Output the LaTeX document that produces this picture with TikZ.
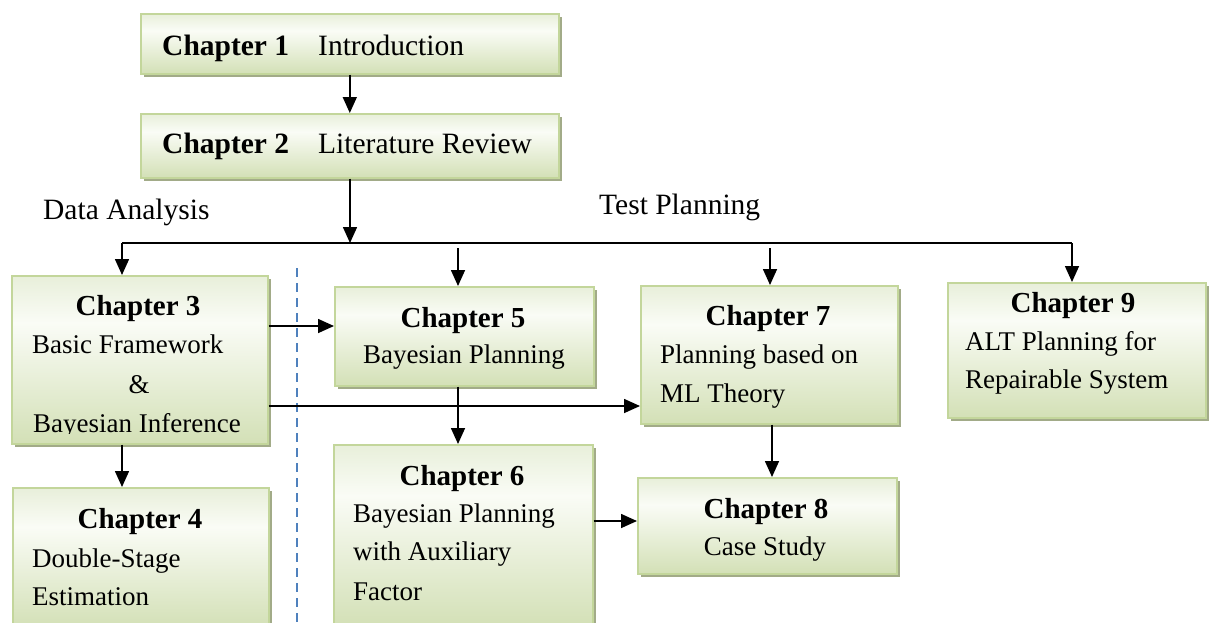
\documentclass[tikz,border=0pt]{standalone}
\usepackage{fontspec}
\setmainfont{Liberation Serif}
\usetikzlibrary{arrows.meta,shadows}

\definecolor{boxedge}{HTML}{C3D69B}
\definecolor{boxshade}{HTML}{A2AB88}
\definecolor{fillbot}{HTML}{D3E0B6}
\definecolor{fillmid}{HTML}{FAFCF6}
\definecolor{filltop}{HTML}{E8EFDA}
\definecolor{divider}{HTML}{4F81BD}

% green gradient of the chapter boxes: greenish top edge, pale band, green bottom
\pgfdeclareverticalshading{chapfill}{100bp}{%
  color(0bp)=(fillbot); color(25bp)=(fillbot); color(61bp)=(fillmid);
  color(75bp)=(filltop); color(100bp)=(filltop)}

\begin{document}
\begin{tikzpicture}[x=1pt,y=-1pt,
  chapbox/.style={draw=boxedge, line width=1.6pt, shading=chapfill,
    inner sep=0pt, anchor=north west,
    drop shadow={shadow xshift=3.5pt, shadow yshift=-3.5pt, fill=boxshade, opacity=1}},
  title/.style={font=\bfseries\fontsize{29}{34}\selectfont, inner sep=0pt},
  body/.style={font=\fontsize{27}{34}\selectfont, inner sep=0pt},
  head/.style={font=\fontsize{29.5}{34}\selectfont, inner sep=0pt},
  grouplabel/.style={font=\fontsize{29.5}{34}\selectfont, inner sep=0pt},
  conn/.style={line width=1.6pt},
  arr/.style={conn, -{Triangle[length=16pt,width=14pt]}}]

\useasboundingbox (0,0) rectangle (1214,622);

% chapter boxes
\node[chapbox, minimum width=418pt, minimum height=60pt] (b1) at (140,13) {};
\node[chapbox, minimum width=418pt, minimum height=64pt] (b2) at (140,113) {};
\node[chapbox, minimum width=256pt, minimum height=168pt] (b3) at (11,275) {};
\node[chapbox, minimum width=256pt, minimum height=140pt] (b4) at (12,487) {};
\node[chapbox, minimum width=259pt, minimum height=99pt] (b5) at (334,286) {};
\node[chapbox, minimum width=259pt, minimum height=182pt] (b6) at (333,444) {};
\node[chapbox, minimum width=257pt, minimum height=138pt] (b7) at (640,285) {};
\node[chapbox, minimum width=259pt, minimum height=96pt] (b8) at (637,477) {};
\node[chapbox, minimum width=258pt, minimum height=135pt] (b9) at (947,282) {};

% box texts
\node[head, anchor=base west] (t1a) at (162,55) {\bfseries Chapter 1};
\node[head, anchor=base west] (t1b) at (318,55) {Introduction};
\node[head, anchor=base west] (t2a) at (162,153) {\bfseries Chapter 2};
\node[head, anchor=base west] (t2b) at (318,153) {Literature Review};

\node[title, anchor=base] (t3a) at (138,315) {Chapter 3};
\node[body, anchor=base west] (t3b) at (32,353) {Basic Framework};
\node[body, anchor=base] (t3c) at (139,393) {\&};
\begin{scope}
  \clip (11,275) rectangle (267,433);
  \node[body, anchor=base west] (t3d) at (33,432) {Bayesian Inference};
\end{scope}

\node[title, anchor=base] (t4a) at (140,528) {Chapter 4};
\node[body, anchor=base west] (t4b) at (32,567) {Double-Stage};
\node[body, anchor=base west] (t4c) at (32,605) {Estimation};

\node[title, anchor=base] (t5a) at (463,327) {Chapter 5};
\node[body, anchor=base] (t5b) at (464,363) {Bayesian Planning};

\node[title, anchor=base] (t6a) at (462,485) {Chapter 6};
\node[body, anchor=base west] (t6b) at (353,522) {Bayesian Planning};
\node[body, anchor=base west] (t6c) at (353,560) {with Auxiliary};
\node[body, anchor=base west] (t6d) at (353,600) {Factor};

\node[title, anchor=base] (t7a) at (768,325) {Chapter 7};
\node[body, anchor=base west] (t7b) at (660,363) {Planning based on};
\node[body, anchor=base west] (t7c) at (660,402) {ML Theory};

\node[title, anchor=base] (t8a) at (766,518) {Chapter 8};
\node[body, anchor=base] (t8b) at (765,555) {Case Study};

\node[title, anchor=base] (t9a) at (1073,312) {Chapter 9};
\node[body, anchor=base west] (t9b) at (965,350) {ALT Planning for};
\node[body, anchor=base west] (t9c) at (965,388) {Repairable System};

% group labels
\node[grouplabel, anchor=base west] (lda) at (43,219) {Data Analysis};
\node[grouplabel, anchor=base west] (ltp) at (599,214) {Test Planning};

% divider between the two groups
\draw[divider, line width=2pt, dash pattern=on 9pt off 6pt] (297,268) -- (297,622);

% distribution bar
\coordinate (hub) at (350,243);
\coordinate (hl) at (122,243);
\coordinate (hr) at (1072,243);
\coordinate (s5) at (458,248);
\coordinate (s7) at (770,248);
\coordinate (s8) at (772,0);

\draw[arr] (b1) -- (b2);
\draw[arr] (b2.south -| hub) -- (hub);
\draw[conn] (hl) -- (hr);
\draw[arr] (hl) -- (hl |- b3.north);
\draw[arr] (hr) -- (hr |- b9.north);
\draw[arr] (s5) -- (s5 |- b5.north);
\draw[arr] (s7) -- (s7 |- b7.north);

% links between chapters
\draw[arr] (b3.east |- 0,326) -- (b5.west |- 0,326);
\draw[arr] (b3.east |- 0,406) -- (b7.west |- 0,406);
\draw[arr] (hl |- b3.south) -- (hl |- b4.north);
\draw[arr] (s5 |- b5.south) -- (s5 |- b6.north);
\draw[arr] (s8 |- b7.south) -- (s8 |- b8.north);
\draw[arr] (b6.east |- 0,521) -- (b8.west |- 0,521);

\end{tikzpicture}
\end{document}
